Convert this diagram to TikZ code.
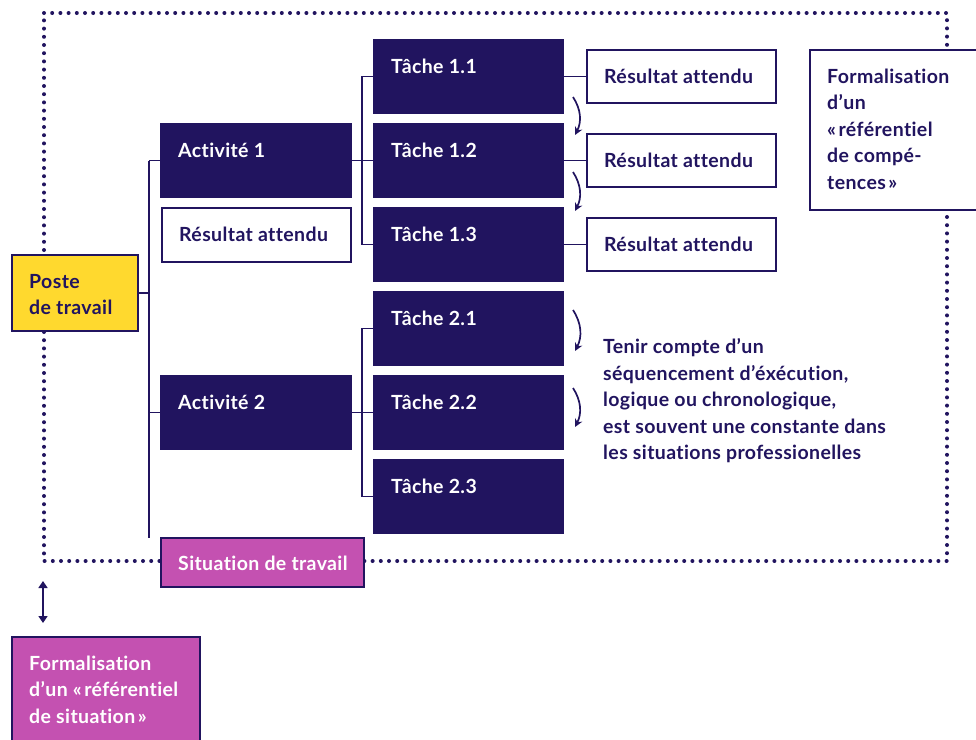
\documentclass[tikz,border=0pt]{standalone}
\usepackage{fontspec}
\setmainfont{Lato}[Ligatures=NoCommon, LetterSpace=2]
\usetikzlibrary{arrows.meta}
\definecolor{navy}{HTML}{21145F}
\definecolor{yell}{HTML}{FFD92E}
\definecolor{magen}{HTML}{C451B1}
\tikzset{
  box/.style={draw=navy, line width=1.6pt, anchor=north west, inner sep=0pt, outer sep=0pt},
  dark/.style={box, fill=navy},
  wbox/.style={box, fill=white},
  mag/.style={box, fill=magen},
  yel/.style={box, fill=yell},
  lbl/.style={anchor=north west, inner sep=0pt, align=left, font=\fontsize{19.5}{26.5}\selectfont\bfseries, xshift=17pt, yshift=-14.5pt},
  lw/.style={lbl, text=white},
  ln/.style={lbl, text=navy},
  conn/.style={draw=navy, line width=1.6pt},
  dots/.style={draw=navy, line width=4pt, line cap=round, dash pattern=on 0pt off 8.2pt},
  seqarr/.style={draw=navy, line width=1.7pt, -{Stealth[length=8pt,width=8pt]}},
  dbl/.style={draw=navy, line width=1.7pt, {Triangle[length=7pt,width=9pt]}-{Triangle[length=7pt,width=9pt]}}
}
\begin{document}
\begin{tikzpicture}[x=1pt,y=-1pt]
\useasboundingbox[fill=white] (0,0) rectangle (976,739);
% dotted frame
\draw[dots] (44,13) -- (947,13) -- (947,561) -- (44,561) -- cycle;
% nodes
\node[yel, minimum width=126, minimum height=76, label={[ln]north west:\strut Poste\\de travail}] (poste) at (12,255) {};
\node[dark, minimum width=190, minimum height=73, label={[lw]north west:\strut Activité 1}] (a1) at (161,124) {};
\node[wbox, minimum width=189, minimum height=54, label={[ln]north west:\strut Résultat attendu}] (r0) at (162,208) {};
\node[dark, minimum width=190, minimum height=73, label={[lw]north west:\strut Activité 2}] (a2) at (161,376) {};
\node[mag, minimum width=203, minimum height=49, label={[lw, yshift=1pt]north west:\strut Situation de travail}] (sit) at (161,538) {};
\node[dark, minimum width=189, minimum height=73, label={[lw]north west:\strut Tâche 1.1}] (t11) at (374,40) {};
\node[dark, minimum width=189, minimum height=73, label={[lw]north west:\strut Tâche 1.2}] (t12) at (374,124) {};
\node[dark, minimum width=189, minimum height=73, label={[lw]north west:\strut Tâche 1.3}] (t13) at (374,208) {};
\node[dark, minimum width=189, minimum height=73, label={[lw]north west:\strut Tâche 2.1}] (t21) at (374,292) {};
\node[dark, minimum width=189, minimum height=73, label={[lw]north west:\strut Tâche 2.2}] (t22) at (374,376) {};
\node[dark, minimum width=189, minimum height=73, label={[lw]north west:\strut Tâche 2.3}] (t23) at (374,460) {};
\node[wbox, minimum width=189, minimum height=53, label={[ln]north west:\strut Résultat attendu}] (r1) at (587,50) {};
\node[wbox, minimum width=189, minimum height=53, label={[ln]north west:\strut Résultat attendu}] (r2) at (587,134) {};
\node[wbox, minimum width=189, minimum height=53, label={[ln]north west:\strut Résultat attendu}] (r3) at (587,218) {};
\node[wbox, minimum width=180, minimum height=160, label={[ln]north west:\strut Formalisation\\d’un\\«\kern2.5pt référentiel\\de compé-\\tences\kern2.5pt»}] (comp) at (810,50) {};
\node[mag, minimum width=188, minimum height=120, label={[lw]north west:\strut Formalisation\\d’un «\kern2.5pt référentiel\\de situation\kern2.5pt»}] (fsit) at (12,637) {};
\node[anchor=north west, inner sep=0pt, align=left, text=navy, font=\fontsize{19.5}{26.5}\selectfont\bfseries] (note) at (603,335)
  {\strut Tenir compte d’un\\séquencement d’éxécution,\\logique ou chronologique,\\est souvent une constante dans\\les situations professionelles};
% connector coordinates
\coordinate (sp) at (149,160.5);
\coordinate (sb) at (149,538);
\coordinate (b1) at (362,0);
% connectors: poste
\draw[conn] (sp) -- (sb);
\draw[conn] (poste.east) -- (poste.east -| sp);
\draw[conn] (a1.west) -- (a1.west -| sp);
\draw[conn] (a2.west) -- (a2.west -| sp);
% activity 1
\draw[conn] (a1.east) -- (t12.west);
\draw[conn] (t11.west) -- (t11.west -| b1) -- (t13.west -| b1) -- (t13.west);
% activity 2
\draw[conn] (a2.east) -- (t22.west);
\draw[conn] (t21.west) -- (t21.west -| b1) -- (t23.west -| b1) -- (t23.west);
% results
\draw[conn] (t11.east) -- (r1.west);
\draw[conn] (t12.east) -- (r2.west);
\draw[conn] (t13.east) -- (r3.west);
% sequence arrows
\coordinate (s1a) at (573,97);  \coordinate (s1b) at (575,135);
\coordinate (s2a) at (573,172); \coordinate (s2b) at (575,211);
\coordinate (s3a) at (573,310); \coordinate (s3b) at (575,351);
\coordinate (s4a) at (573,388); \coordinate (s4b) at (575,427);
\draw[seqarr] (s1a) to[bend left=30] (s1b);
\draw[seqarr] (s2a) to[bend left=30] (s2b);
\draw[seqarr] (s3a) to[bend left=30] (s3b);
\draw[seqarr] (s4a) to[bend left=30] (s4b);
% double arrow
\coordinate (da) at (43,581);
\coordinate (db) at (43,623);
\draw[dbl] (da) -- (db);
\end{tikzpicture}
\end{document}
